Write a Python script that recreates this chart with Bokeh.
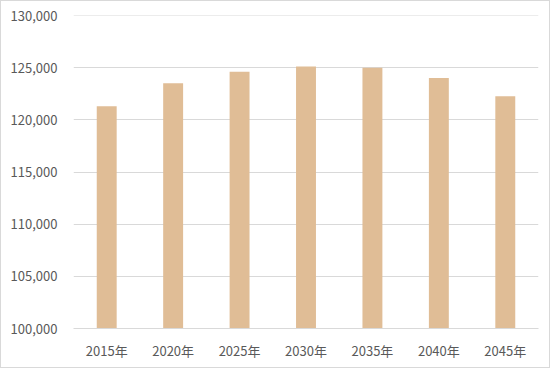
from bokeh.plotting import figure
from bokeh.models import NumeralTickFormatter, FixedTicker, Span
from bokeh.embed import file_html
from bokeh.resources import INLINE

years = ["2015年", "2020年", "2025年", "2030年", "2035年", "2040年", "2045年"]
values = [121300, 123500, 124600, 125100, 125000, 124000, 122250]
y_ticks = [100000, 105000, 110000, 115000, 120000, 125000, 130000]

p = figure(x_range=years, y_range=(y_ticks[0], y_ticks[-1]), width=550, height=368,
           output_backend="svg", toolbar_location=None,
           min_border_left=72, min_border_right=13, min_border_top=14, min_border_bottom=41)
p.vbar(x=years, top=values, bottom=y_ticks[0], width=0.3, color="#E0BD96", line_color=None)
p.add_layout(Span(location=y_ticks[-1], dimension="width", line_color="#D9D9D9", line_width=1))

p.outline_line_color = None
p.xgrid.grid_line_color = None
p.ygrid.grid_line_color = "#D9D9D9"
p.ygrid.grid_line_width = 1
p.yaxis.ticker = FixedTicker(ticks=y_ticks)
p.yaxis.formatter = NumeralTickFormatter(format="0,0")
p.yaxis.axis_line_color = None
p.yaxis.major_tick_line_color = None
p.yaxis.minor_tick_line_color = None
p.yaxis.major_tick_out = 0
p.yaxis.major_label_standoff = 16
p.xaxis.axis_line_color = "#D9D9D9"
p.xaxis.major_tick_line_color = None
p.xaxis.major_tick_out = 0
p.xaxis.major_label_standoff = 12
for ax in (p.xaxis, p.yaxis):
    ax.major_label_text_font = "Noto Sans CJK JP"
    ax.major_label_text_font_size = "13px"
    ax.major_label_text_color = "#595959"
p.styles = {"border": "1px solid #D9D9D9", "box-sizing": "border-box"}

open("out.html", "w").write(file_html(p, INLINE))
